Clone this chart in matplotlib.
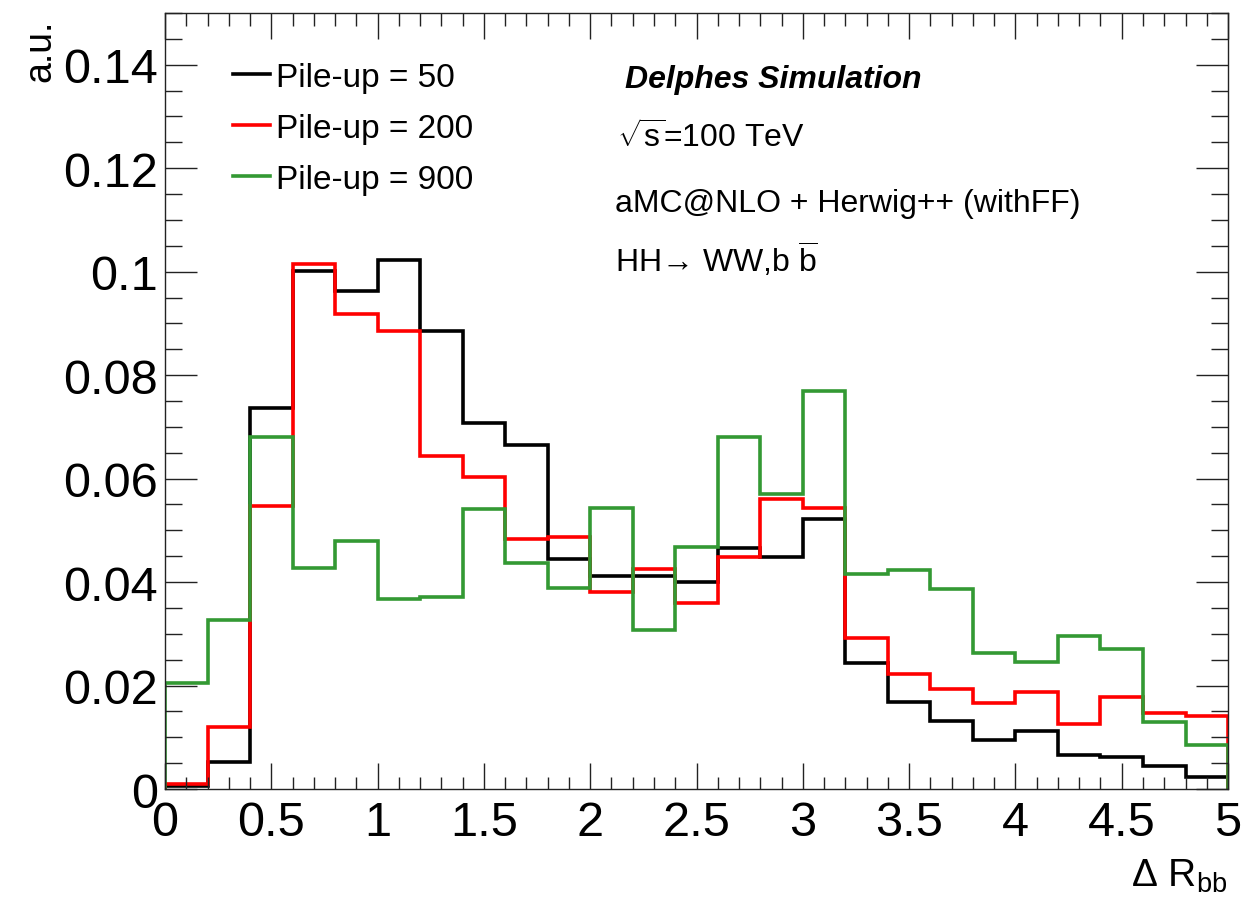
import numpy as np
import matplotlib
matplotlib.use("Agg")
import matplotlib.pyplot as plt
from matplotlib.ticker import MultipleLocator

plt.rcParams['font.family'] = ['Liberation Sans', 'DejaVu Sans']
plt.rcParams['mathtext.fontset'] = 'custom'
plt.rcParams['mathtext.rm'] = 'Liberation Sans'
plt.rcParams['mathtext.it'] = 'Liberation Sans:italic'
plt.rcParams['mathtext.bf'] = 'Liberation Sans:bold'

# bin edges of Delta R_bb (0.2 wide bins from 0 to 5)
bin_edges = np.linspace(0, 5, 26)

pu50 = [0.0006, 0.0053, 0.0736, 0.1002, 0.0963, 0.1022, 0.0886, 0.0708, 0.0664,
        0.0445, 0.0412, 0.0412, 0.0400, 0.0465, 0.0448, 0.0521, 0.0243, 0.0168,
        0.0131, 0.0094, 0.0112, 0.0065, 0.0062, 0.0045, 0.0024]
pu200 = [0.0010, 0.0119, 0.0547, 0.1015, 0.0919, 0.0886, 0.0644, 0.0603, 0.0484,
         0.0487, 0.0380, 0.0425, 0.0359, 0.0449, 0.0561, 0.0544, 0.0291, 0.0223,
         0.0194, 0.0167, 0.0187, 0.0126, 0.0178, 0.0147, 0.0142]
pu900 = [0.0205, 0.0327, 0.0680, 0.0428, 0.0479, 0.0367, 0.0371, 0.0541, 0.0436,
         0.0389, 0.0544, 0.0308, 0.0468, 0.0680, 0.0570, 0.0770, 0.0415, 0.0423,
         0.0387, 0.0262, 0.0246, 0.0295, 0.0271, 0.0130, 0.0086]

series = [
    ("Pile-up = 50", pu50, "black"),
    ("Pile-up = 200", pu200, "#ff0000"),
    ("Pile-up = 900", pu900, "#339933"),
]

fig = plt.figure(figsize=(12.47, 9.04), dpi=100)
ax = fig.add_axes([0.1323, 0.1261, 0.8525, 0.8584])

for label, vals, col in series:
    ax.stairs(vals, bin_edges, color=col, linewidth=2.6, label=label)

ax.set_xlim(0, 5)
ax.set_ylim(0, 0.15)

ax.xaxis.set_minor_locator(MultipleLocator(0.1))
ax.yaxis.set_minor_locator(MultipleLocator(0.005))
ax.set_yticks([0, 0.02, 0.04, 0.06, 0.08, 0.1, 0.12, 0.14])
ax.set_yticklabels(["0", "0.02", "0.04", "0.06", "0.08", "0.1", "0.12", "0.14"])
ax.set_xticks([0, 0.5, 1, 1.5, 2, 2.5, 3, 3.5, 4, 4.5, 5])
ax.set_xticklabels(["0", "0.5", "1", "1.5", "2", "2.5", "3", "3.5", "4", "4.5", "5"])

ax.tick_params(axis='both', which='both', direction='in', top=True, right=True,
               width=1.0, labelsize=35, color='#222222')
ax.tick_params(axis='x', which='major', length=19, pad=8)
ax.tick_params(axis='x', which='minor', length=9)
ax.tick_params(axis='y', which='major', length=23, pad=5)
ax.tick_params(axis='y', which='minor', length=12)
for sp in ax.spines.values():
    sp.set_linewidth(1.0)
    sp.set_color('#222222')

# axis titles, ROOT style at the ends of the axes
fig.text(0.032, 0.978, "a.u.", rotation=90, ha='center', va='top', fontsize=27)
fig.text(0.984, 0.010, r"Δ R$_{\mathrm{bb}}$", ha='right', va='bottom', fontsize=28)

leg = ax.legend(loc='upper left', bbox_to_anchor=(0.064, 0.937), frameon=False,
                fontsize=24, handlelength=1.1, handletextpad=0.2,
                labelspacing=0.6, borderpad=0, borderaxespad=0)

ax.text(0.433, 0.915, "Delphes Simulation", transform=ax.transAxes, fontsize=23,
        fontweight='bold', fontstyle='italic', va='center', ha='left')
ax.text(0.425, 0.840, r"$\sqrt{\mathrm{s}}$=100 TeV", transform=ax.transAxes,
        fontsize=23, va='center', ha='left')
ax.text(0.423, 0.755, "aMC@NLO + Herwig++ (withFF)", transform=ax.transAxes,
        fontsize=23, va='center', ha='left')
ax.text(0.423, 0.684, r"HH→ WW,b $\overline{\mathrm{b}}$",
        transform=ax.transAxes, fontsize=23, va='center', ha='left')

plt.savefig("out.png", dpi=100)
